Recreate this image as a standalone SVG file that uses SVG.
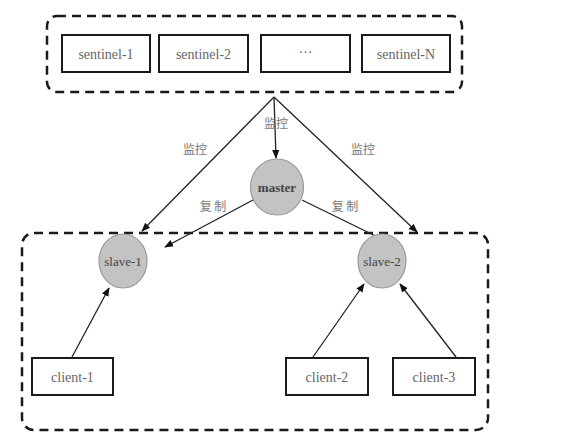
<svg xmlns="http://www.w3.org/2000/svg" width="581" height="445" viewBox="0 0 581 445">
<defs>
<style>
.grp{fill:none;stroke:#1a1a1a;stroke-width:2.5;stroke-dasharray:9 6}
.box{fill:#fff;stroke:#1a1a1a;stroke-width:2}
.lbl{font-family:'Liberation Serif','DejaVu Serif',serif;font-size:14px;fill:#666;text-anchor:middle;dominant-baseline:central}
.node{fill:#c3c3c3;stroke:#999;stroke-width:1.2}
.nlbl{font-family:'Liberation Serif','DejaVu Serif',serif;font-size:13px;fill:#444;text-anchor:middle;dominant-baseline:central}
.edge{stroke:#222;stroke-width:1.3;fill:none;marker-end:url(#arr)}
.elbl{font-family:'Noto Sans CJK SC',sans-serif;font-size:12px;fill:#777;text-anchor:middle;dominant-baseline:central}
</style>
<marker id="arr" viewBox="0 0 10 10" refX="9" refY="5" markerWidth="9" markerHeight="9" markerUnits="userSpaceOnUse" orient="auto">
<path d="M0,1 L10,5 L0,9 z" fill="#111"/>
</marker>
</defs>
<rect width="581" height="445" fill="#fff"/>
<rect class="grp" x="47" y="16" width="415" height="76" rx="10"/>
<rect class="grp" x="22" y="233" width="466" height="197" rx="12"/>
<g id="sentinel-1"><rect class="box" x="62" y="35" width="88" height="37"/><text class="lbl" x="106" y="54">sentinel-1</text></g>
<g id="sentinel-2"><rect class="box" x="159" y="35" width="89" height="37"/><text class="lbl" x="203.5" y="54">sentinel-2</text></g>
<g id="sentinel-dots"><rect class="box" x="261" y="35" width="89" height="37"/><text class="lbl" x="305.5" y="52">···</text></g>
<g id="sentinel-N"><rect class="box" x="362" y="35" width="88" height="37"/><text class="lbl" x="406" y="54">sentinel-N</text></g>
<g id="connectors">
<line class="edge" x1="274" y1="97" x2="276" y2="158"/>
<line class="edge" x1="274" y1="97" x2="142" y2="231"/>
<line class="edge" x1="274" y1="97" x2="417" y2="232"/>
<line class="edge" x1="253" y1="200" x2="165" y2="247"/>
<line class="edge" x1="302" y1="200" x2="398" y2="247"/>
<line class="edge" x1="72" y1="357" x2="109" y2="288"/>
<line class="edge" x1="313" y1="357" x2="364" y2="284"/>
<line class="edge" x1="456" y1="357" x2="400" y2="284"/>
<text class="elbl" x="276" y="122">监控</text>
<text class="elbl" x="195" y="148">监控</text>
<text class="elbl" x="363" y="148">监控</text>
<text class="elbl" x="213" y="205">复 制</text>
<text class="elbl" x="345" y="205">复 制</text>
</g>
<g id="master"><ellipse class="node" cx="277" cy="187" rx="26.5" ry="28"/><text class="nlbl" x="277" y="187" font-weight="bold">master</text></g>
<g id="slave-1"><ellipse class="node" cx="123" cy="261" rx="24" ry="27"/><text class="nlbl" x="123" y="261">slave-1</text></g>
<g id="slave-2"><ellipse class="node" cx="382" cy="261" rx="24" ry="27"/><text class="nlbl" x="382" y="261">slave-2</text></g>
<g id="client-1"><rect class="box" x="32" y="358" width="81" height="37"/><text class="lbl" x="72.5" y="377">client-1</text></g>
<g id="client-2"><rect class="box" x="286" y="358" width="82" height="37"/><text class="lbl" x="327" y="377">client-2</text></g>
<g id="client-3"><rect class="box" x="393" y="358" width="82" height="37"/><text class="lbl" x="434" y="377">client-3</text></g>
</svg>
